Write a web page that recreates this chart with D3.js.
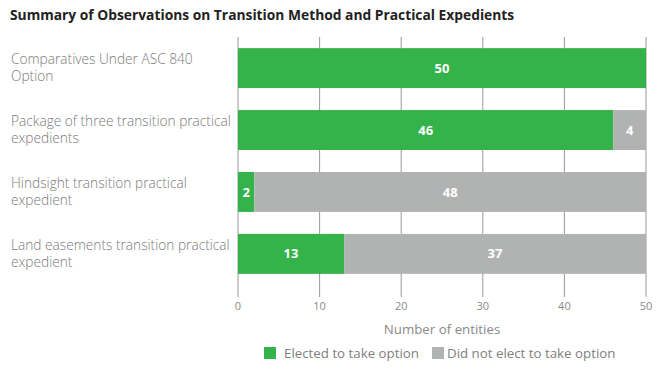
<!DOCTYPE html>
<html>
<head>
<meta charset="utf-8">
<script src="https://cdn.jsdelivr.net/npm/d3@7"></script>
<style>
  body { margin: 0; background: #fff; font-family: "Open Sans", sans-serif; }
  svg text { font-family: "Open Sans", sans-serif; }
</style>
</head>
<body>
<svg id="chart" width="663" height="373"></svg>
<script>
// categories, two lines each as in the picture
var categories = [
  ["Comparatives Under ASC 840", "Option"],
  ["Package of three transition practical", "expedients"],
  ["Hindsight transition practical", "expedient"],
  ["Land easements transition practical", "expedient"]
];
var elected = [50, 46, 2, 13];
var notElected = [0, 4, 48, 37];
var xTicks = [0, 10, 20, 30, 40, 50];
var seriesNames = ["Elected to take option", "Did not elect to take option"];
var seriesColors = ["#33b34a", "#b1b3b3"];

var svg = d3.select("#chart");

var x = d3.scaleLinear()
  .domain([0, 50])
  .range([238, 646]);

var y = d3.scaleBand()
  .domain(d3.range(categories.length))
  .range([37, 285])
  .paddingInner(0.355)
  .paddingOuter(0.18);

// title
svg.append("text")
  .attr("x", 10)
  .attr("y", 20)
  .style("font-size", "13.8px")
  .style("font-weight", "bold")
  .style("fill", "#222")
  .text("Summary of Observations on Transition Method and Practical Expedients");

// gridlines
svg.append("g")
  .selectAll("line")
  .data(xTicks)
  .enter()
  .append("line")
  .attr("x1", function(d) { return x(d); })
  .attr("x2", function(d) { return x(d); })
  .attr("y1", 37)
  .attr("y2", 297)
  .style("stroke", "#999")
  .style("stroke-width", 1);

// bars
var rows = categories.map(function(c, i) {
  return [
    { i: i, x0: 0, x1: elected[i], v: elected[i], s: 0 },
    { i: i, x0: elected[i], x1: elected[i] + notElected[i], v: notElected[i], s: 1 }
  ];
});
var segs = [].concat.apply([], rows).filter(function(d) { return d.v > 0; });

svg.append("g")
  .selectAll("rect")
  .data(segs)
  .enter()
  .append("rect")
  .attr("x", function(d) { return x(d.x0); })
  .attr("width", function(d) { return x(d.x1) - x(d.x0); })
  .attr("y", function(d) { return y(d.i); })
  .attr("height", y.bandwidth())
  .style("fill", function(d) { return seriesColors[d.s]; });

svg.append("g")
  .selectAll("text")
  .data(segs)
  .enter()
  .append("text")
  .attr("x", function(d) { return (x(d.x0) + x(d.x1)) / 2; })
  .attr("y", function(d) { return y(d.i) + y.bandwidth() / 2; })
  .attr("dy", "0.35em")
  .attr("text-anchor", "middle")
  .style("font-size", "13px")
  .style("font-weight", "bold")
  .style("fill", "#fff")
  .text(function(d) { return d.v; });

// category labels
var labels = svg.append("g")
  .selectAll("text")
  .data(categories)
  .enter()
  .append("text")
  .attr("x", 11)
  .attr("y", function(d, i) { return y(i) + y.bandwidth() / 2; })
  .style("font-size", "13.7px")
  .style("font-weight", "300")
  .style("fill", "#7a7a7a");
labels.selectAll("tspan")
  .data(function(d) { return d; })
  .enter()
  .append("tspan")
  .attr("x", 11)
  .attr("dy", function(d, j) { return j == 0 ? "-0.3em" : "1.27em"; })
  .text(function(d) { return d; });

// x axis tick labels
svg.append("g")
  .selectAll("text")
  .data(xTicks)
  .enter()
  .append("text")
  .attr("x", function(d) { return x(d); })
  .attr("y", 310)
  .attr("text-anchor", "middle")
  .style("font-size", "11px")
  .style("fill", "#8a8a8a")
  .text(function(d) { return d; });

svg.append("text")
  .attr("x", (x(0) + x(50)) / 2)
  .attr("y", 334)
  .attr("text-anchor", "middle")
  .style("font-size", "13.3px")
  .style("fill", "#8a8a8a")
  .text("Number of entities");

// legend
var legendX = [264, 432];
var legend = svg.append("g")
  .selectAll("g")
  .data(seriesNames)
  .enter()
  .append("g")
  .attr("transform", function(d, i) { return "translate(" + legendX[i] + ",347)"; });
legend.append("rect")
  .attr("width", 12)
  .attr("height", 12)
  .style("fill", function(d, i) { return seriesColors[i]; });
legend.append("text")
  .attr("x", function(d, i) { return i == 0 ? 20 : 15; })
  .attr("y", 6)
  .attr("dy", "0.35em")
  .style("font-size", "13.3px")
  .style("fill", "#808080")
  .text(function(d) { return d; });
</script>
</body>
</html>
